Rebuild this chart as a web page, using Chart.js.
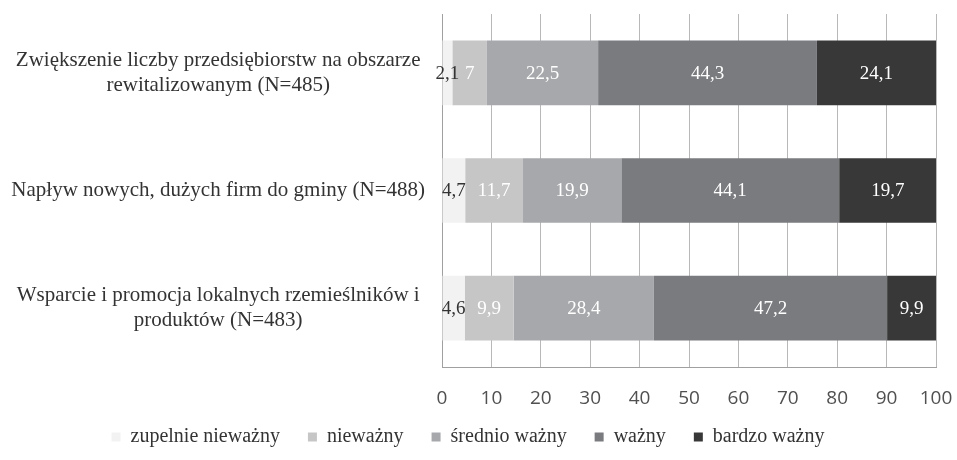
<!DOCTYPE html>
<html>
<head>
<meta charset="utf-8">
<script src="https://cdn.jsdelivr.net/npm/chart.js@4.4.1/dist/chart.umd.min.js"></script>
<style>
  html, body { margin: 0; padding: 0; background: #fff; }
  #wrap { width: 957px; height: 460px; }
</style>
</head>
<body>
<div id="wrap"><canvas id="chart" width="957" height="460"></canvas></div>
<script>
var categories = [
  ["Zwiększenie liczby przedsiębiorstw na obszarze", "rewitalizowanym (N=485)"],
  "Napływ nowych, dużych firm do gminy (N=488)",
  ["Wsparcie i promocja lokalnych rzemieślników i", "produktów (N=483)"]
];
var seriesNames = ["zupelnie nieważny", "nieważny", "średnio ważny", "ważny", "bardzo ważny"];
var zupelnie = [2.1, 4.7, 4.6];
var niewazny = [7, 11.7, 9.9];
var srednio = [22.5, 19.9, 28.4];
var wazny = [44.3, 44.1, 47.2];
var bardzo = [24.1, 19.7, 9.9];
var xTicks = [0, 10, 20, 30, 40, 50, 60, 70, 80, 90, 100];

var colors = ["#f2f2f2", "#c6c6c7", "#a7a8ab", "#7a7b7f", "#383838"];
var labelColors = ["#333333", "#ffffff", "#ffffff", "#ffffff", "#ffffff"];
var serif = "'Liberation Serif', 'Times New Roman', serif";

function makeDataSet(name, values, i) {
  return {
    label: name,
    data: values,
    backgroundColor: colors[i],
    borderWidth: 0,
    categoryPercentage: 0.55,
    barPercentage: 1
  };
}

// value labels centred in each segment
var valueLabels = {
  id: "valueLabels",
  afterDatasetsDraw: function (chart) {
    var ctx = chart.ctx;
    ctx.save();
    ctx.font = "19px " + serif;
    ctx.textAlign = "center";
    ctx.textBaseline = "middle";
    chart.data.datasets.forEach(function (ds, i) {
      var meta = chart.getDatasetMeta(i);
      meta.data.forEach(function (bar, j) {
        var txt = String(ds.data[j]).replace(".", ",");
        ctx.fillStyle = labelColors[i];
        ctx.fillText(txt, (bar.x + bar.base) / 2, bar.y + 1);
      });
    });
    ctx.restore();
  }
};

var ctx = document.getElementById("chart").getContext("2d");
var chart = new Chart(ctx, {
  type: "bar",
  data: {
    labels: categories,
    datasets: [
      makeDataSet(seriesNames[0], zupelnie, 0),
      makeDataSet(seriesNames[1], niewazny, 1),
      makeDataSet(seriesNames[2], srednio, 2),
      makeDataSet(seriesNames[3], wazny, 3),
      makeDataSet(seriesNames[4], bardzo, 4)
    ]
  },
  options: {
    indexAxis: "y",
    responsive: false,
    animation: false,
    layout: { padding: { top: 14, right: 21, bottom: 3, left: 0 } },
    scales: {
      x: {
        stacked: true,
        min: 0,
        max: 100,
        afterBuildTicks: function (scale) {
          scale.ticks = xTicks.map(function (v) { return { value: v }; });
        },
        afterFit: function (scale) {
          scale.height = 32;
          scale.paddingLeft = 0;
          scale.paddingRight = 0;
          // labels sit lower than the (short) axis box, so don't clip them
          scale._computeLabelArea = function () { return undefined; };
        },
        grid: { color: "#b8b8b8", lineWidth: 1, drawTicks: false },
        border: { display: true, color: "#a0a0a0", width: 1 },
        ticks: {
          padding: 20,
          color: "#505050",
          font: { family: "'Open Sans', sans-serif", size: 19 }
        }
      },
      y: {
        stacked: true,
        afterFit: function (scale) {
          scale.width = 442;
          scale.paddingTop = 0;
          scale.paddingBottom = 0;
        },
        grid: { display: false, drawTicks: false },
        border: { display: true, color: "#a0a0a0", width: 1 },
        ticks: {
          padding: 17,
          crossAlign: "center",
          color: "#333333",
          font: { family: serif, size: 21, lineHeight: 1.2 }
        }
      }
    },
    plugins: {
      legend: {
        position: "bottom",
        labels: {
          boxWidth: 9,
          boxHeight: 9,
          padding: 28,
          color: "#333333",
          font: { family: serif, size: 20 }
        }
      },
      tooltip: { enabled: false }
    }
  },
  plugins: [valueLabels]
});
</script>
</body>
</html>
